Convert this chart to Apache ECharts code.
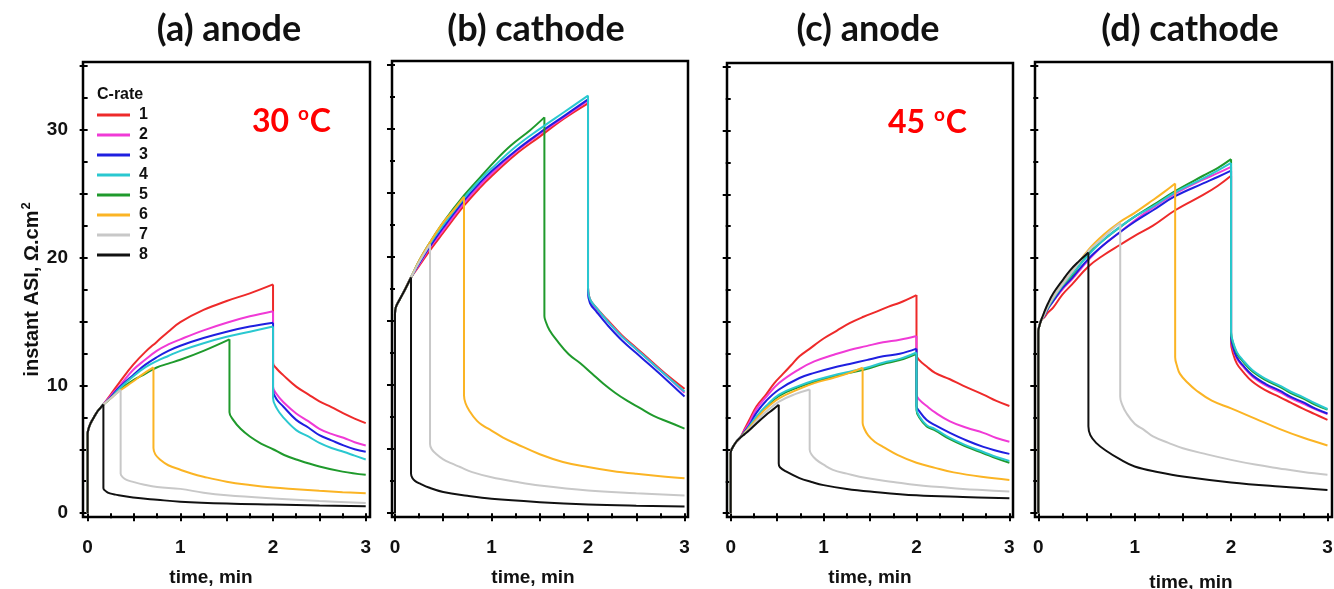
<!DOCTYPE html>
<html>
<head>
<meta charset="utf-8">
<title>Instant ASI vs time</title>
<script src="https://cdn.jsdelivr.net/npm/echarts@6/dist/echarts.min.js"></script>
<style>
  html, body { margin: 0; padding: 0; background: #fff; }
  #chart { width: 1334px; height: 589px; }
</style>
</head>
<body>
<div id="chart"></div>
<script>
// ---- data: time (min), instant ASI (ohm.cm2) ----
const rates = ['1', '2', '3', '4', '5', '6', '7', '8'];
const xTickLabels = [0, 1, 2, 3];
const yTickLabels = [0, 10, 20, 30];

// (a) anode, 30 C: shared start of the pulse, then one curve per C-rate
const anode30Start = [[0,0],[0,6.2],[0.01,6.6],[0.03,7.0],[0.06,7.4],[0.1,7.9],[0.14,8.25],[0.17,8.5]];
const anode30 = [
  [[0.25,9.3],[0.35,10.3],[0.49,11.6],[0.62,12.6],[0.745,13.4],[0.87,14.2],[1.0,14.95],[1.25,15.9],[1.5,16.6],[1.75,17.2],[2.0,17.9],[2.0,11.75],[2.04,11.3],[2.11,10.8],[2.25,9.9],[2.38,9.3],[2.5,8.75],[2.63,8.3],[2.76,7.8],[2.88,7.4],[3.0,7.05]],
  [[0.25,9.2],[0.35,10.0],[0.49,11.2],[0.62,12.0],[0.745,12.7],[0.87,13.2],[1.0,13.6],[1.25,14.3],[1.5,14.9],[1.75,15.4],[2.0,15.8],[2.0,9.9],[2.04,9.3],[2.11,8.7],[2.25,7.8],[2.38,7.2],[2.5,6.6],[2.63,6.2],[2.76,5.9],[2.88,5.55],[3.0,5.3]],
  [[0.25,9.1],[0.35,9.9],[0.49,10.8],[0.62,11.6],[0.745,12.2],[0.87,12.7],[1.0,13.1],[1.25,13.7],[1.5,14.2],[1.75,14.6],[2.0,14.9],[2.0,9.6],[2.04,8.9],[2.11,8.35],[2.25,7.3],[2.38,6.7],[2.5,6.1],[2.63,5.7],[2.76,5.3],[2.88,5.0],[3.0,4.8]],
  [[0.25,9.0],[0.35,9.8],[0.49,10.7],[0.62,11.4],[0.745,11.9],[0.87,12.3],[1.0,12.7],[1.25,13.3],[1.5,13.8],[1.75,14.2],[2.0,14.6],[2.0,9.0],[2.04,8.2],[2.11,7.5],[2.25,6.5],[2.38,6.0],[2.5,5.5],[2.63,5.1],[2.76,4.8],[2.88,4.5],[3.0,4.2]],
  [[0.25,9.0],[0.35,9.7],[0.49,10.4],[0.62,10.9],[0.745,11.4],[0.87,11.7],[1.0,12.0],[1.25,12.7],[1.53,13.6],[1.53,7.9],[1.57,7.3],[1.65,6.6],[1.75,6.0],[1.87,5.45],[2.0,5.0],[2.12,4.55],[2.25,4.2],[2.5,3.65],[2.75,3.25],[3.0,3.0]],
  [[0.25,9.0],[0.35,9.6],[0.49,10.3],[0.6,10.9],[0.71,11.4],[0.71,5.1],[0.73,4.6],[0.78,4.2],[0.87,3.75],[1.0,3.4],[1.12,3.1],[1.25,2.85],[1.5,2.46],[1.75,2.2],[2.0,2.0],[2.25,1.87],[2.5,1.75],[2.75,1.64],[3.0,1.55]],
  [[0.25,9.0],[0.356,9.65],[0.356,3.1],[0.38,2.8],[0.42,2.6],[0.49,2.45],[0.6,2.25],[0.75,2.05],[1.0,1.9],[1.25,1.6],[1.5,1.4],[2.0,1.15],[2.5,0.95],[3.0,0.8]],
  [[0.17,1.95],[0.2,1.7],[0.24,1.55],[0.3,1.45],[0.49,1.23],[0.75,1.05],[1.0,0.9],[1.5,0.75],[2.0,0.67],[2.5,0.6],[3.0,0.55]]
];

// (b) cathode, 30 C
const cathode30Start = [[0,0],[0,15.6],[0.01,16.1],[0.05,16.7],[0.1,17.4],[0.166,18.4]];
const cathode30 = [
  [[0.25,19.3],[0.36,20.5],[0.5,21.9],[0.715,24.0],[0.88,25.4],[1.0,26.3],[1.25,28.0],[1.5,29.4],[1.75,30.8],[2.0,32.0],[2.0,17.6],[2.02,16.7],[2.09,16.0],[2.2,15.1],[2.35,13.9],[2.5,12.9],[2.65,11.9],[2.8,10.9],[3.0,9.7]],
  [[0.25,19.4],[0.36,20.7],[0.5,22.1],[0.715,24.2],[0.88,25.6],[1.0,26.5],[1.25,28.2],[1.5,29.6],[1.75,30.9],[2.0,32.2],[2.0,17.5],[2.02,16.6],[2.09,15.9],[2.2,15.0],[2.35,13.8],[2.5,12.8],[2.65,11.8],[2.8,10.8],[3.0,9.4]],
  [[0.25,19.5],[0.36,20.8],[0.5,22.3],[0.715,24.4],[0.88,25.8],[1.0,26.7],[1.25,28.3],[1.5,29.7],[1.75,31.0],[2.0,32.3],[2.0,17.3],[2.02,16.4],[2.09,15.7],[2.2,14.7],[2.35,13.5],[2.5,12.5],[2.65,11.5],[2.8,10.5],[3.0,9.1]],
  [[0.25,19.6],[0.36,21.0],[0.5,22.5],[0.715,24.6],[0.88,26.0],[1.0,26.9],[1.25,28.6],[1.5,30.0],[1.75,31.3],[2.0,32.6],[2.0,17.6],[2.02,16.7],[2.09,16.0],[2.2,15.0],[2.35,13.8],[2.5,12.8],[2.65,11.8],[2.8,10.8],[3.0,9.5]],
  [[0.25,19.7],[0.36,21.1],[0.5,22.7],[0.715,24.8],[0.88,26.2],[1.05,27.6],[1.2,28.7],[1.4,29.9],[1.548,30.9],[1.548,15.4],[1.56,15.0],[1.6,14.3],[1.675,13.5],[1.8,12.4],[1.92,11.7],[2.04,10.9],[2.16,10.1],[2.28,9.4],[2.4,8.8],[2.54,8.2],[2.68,7.6],[2.84,7.1],[3.0,6.6]],
  [[0.25,19.7],[0.36,21.1],[0.5,22.7],[0.6,23.6],[0.715,24.7],[0.715,9.2],[0.73,8.6],[0.77,8.0],[0.85,7.2],[0.92,6.8],[1.0,6.45],[1.12,5.9],[1.26,5.4],[1.5,4.6],[1.74,4.0],[2.0,3.6],[2.25,3.3],[2.5,3.07],[2.75,2.88],[3.0,2.73]],
  [[0.25,19.6],[0.363,21.0],[0.363,5.4],[0.38,5.0],[0.43,4.6],[0.5,4.2],[0.58,3.9],[0.675,3.6],[0.8,3.2],[1.0,2.8],[1.25,2.45],[1.5,2.16],[2.0,1.77],[2.5,1.56],[3.0,1.38]],
  [[0.166,3.1],[0.18,2.75],[0.21,2.5],[0.26,2.3],[0.35,2.0],[0.5,1.65],[0.75,1.35],[1.0,1.12],[1.5,0.86],[2.0,0.68],[2.5,0.58],[3.0,0.52]]
];

// (c) anode, 45 C
const anode45Start = [[0,0],[0,4.7],[0.01,5.0],[0.025,5.2],[0.06,5.6],[0.1,5.9]];
const anode45 = [
  [[0.15,6.6],[0.2,7.3],[0.28,8.4],[0.38,9.3],[0.47,10.2],[0.56,10.9],[0.65,11.6],[0.74,12.3],[0.87,13.0],[1.0,13.7],[1.14,14.3],[1.28,14.9],[1.43,15.4],[1.57,15.8],[1.7,16.2],[1.82,16.5],[2.0,17.1],[2.0,12.4],[2.03,12.0],[2.11,11.5],[2.2,11.0],[2.36,10.5],[2.5,10.0],[2.72,9.3],[2.86,8.8],[3.0,8.4]],
  [[0.15,6.5],[0.2,7.1],[0.28,8.2],[0.38,9.1],[0.52,10.2],[0.74,11.3],[0.9,11.9],[1.1,12.4],[1.28,12.8],[1.46,13.1],[1.64,13.4],[1.82,13.6],[2.0,13.9],[2.0,9.3],[2.03,8.9],[2.11,8.4],[2.2,7.9],[2.36,7.2],[2.54,6.7],[2.72,6.3],[2.86,5.9],[3.0,5.6]],
  [[0.15,6.4],[0.2,6.9],[0.28,7.9],[0.38,8.8],[0.52,9.7],[0.74,10.6],[0.9,11.0],[1.1,11.4],[1.28,11.7],[1.46,12.0],[1.64,12.3],[1.82,12.5],[2.0,12.9],[2.0,8.4],[2.03,8.0],[2.11,7.3],[2.2,6.9],[2.36,6.3],[2.54,5.7],[2.72,5.2],[2.86,4.9],[3.0,4.65]],
  [[0.15,6.3],[0.2,6.8],[0.28,7.6],[0.38,8.4],[0.52,9.3],[0.74,10.0],[0.9,10.4],[1.1,10.8],[1.28,11.1],[1.46,11.4],[1.64,11.8],[1.82,12.1],[2.0,12.6],[2.0,8.2],[2.03,7.6],[2.11,6.9],[2.2,6.6],[2.36,5.9],[2.54,5.3],[2.72,4.8],[2.86,4.4],[3.0,4.1]],
  [[0.15,6.3],[0.2,6.7],[0.28,7.5],[0.38,8.3],[0.52,9.2],[0.74,9.9],[0.9,10.3],[1.1,10.7],[1.28,11.0],[1.46,11.3],[1.64,11.7],[1.82,12.0],[2.0,12.5],[2.0,8.1],[2.03,7.5],[2.11,6.8],[2.2,6.5],[2.36,5.8],[2.54,5.2],[2.72,4.7],[2.86,4.3],[3.0,3.95]],
  [[0.15,6.3],[0.2,6.7],[0.28,7.4],[0.38,8.2],[0.52,9.0],[0.74,9.75],[0.9,10.2],[1.1,10.6],[1.28,11.0],[1.42,11.4],[1.42,7.1],[1.44,6.6],[1.48,6.1],[1.55,5.6],[1.64,5.2],[1.8,4.55],[2.0,3.95],[2.2,3.55],[2.4,3.2],[2.7,2.85],[3.0,2.6]],
  [[0.15,6.25],[0.2,6.6],[0.28,7.25],[0.38,7.95],[0.52,8.75],[0.7,9.35],[0.85,9.7],[0.85,5.0],[0.87,4.6],[0.92,4.2],[1.0,3.8],[1.1,3.4],[1.25,3.1],[1.46,2.75],[1.75,2.45],[2.0,2.2],[2.25,2.05],[2.5,1.9],[2.75,1.8],[3.0,1.7]],
  [[0.15,6.2],[0.2,6.5],[0.28,7.05],[0.38,7.7],[0.45,8.1],[0.517,8.5],[0.517,3.9],[0.53,3.6],[0.6,3.25],[0.74,2.75],[0.87,2.45],[1.0,2.2],[1.25,1.9],[1.5,1.7],[2.0,1.4],[2.5,1.27],[3.0,1.18]]
];

// (d) cathode, 45 C
const cathode45Start = [[0,0],[0,14.2],[0.01,14.6],[0.03,15.1]];
const cathode45 = [
  [[0.06,15.3],[0.1,15.7],[0.156,16.1],[0.25,17.1],[0.35,17.9],[0.52,19.3],[0.68,20.2],[0.85,21.0],[1.0,21.7],[1.19,22.5],[1.42,23.7],[1.71,24.9],[1.86,25.6],[2.0,26.4],[2.0,13.3],[2.02,12.5],[2.06,11.7],[2.12,11.1],[2.22,10.3],[2.36,9.6],[2.5,9.1],[2.62,8.65],[2.74,8.2],[2.87,7.75],[3.0,7.3]],
  [[0.06,15.4],[0.1,16.0],[0.156,16.6],[0.25,17.5],[0.35,18.3],[0.52,19.8],[0.68,21.0],[0.85,22.0],[1.0,22.9],[1.19,23.9],[1.42,25.0],[1.71,26.1],[1.86,26.6],[2.0,27.1],[2.0,13.7],[2.02,12.9],[2.06,12.1],[2.12,11.5],[2.22,10.7],[2.36,10.0],[2.5,9.5],[2.62,9.0],[2.74,8.6],[2.87,8.15],[3.0,7.75]],
  [[0.06,15.4],[0.1,16.0],[0.156,16.6],[0.25,17.6],[0.35,18.4],[0.52,19.9],[0.68,21.0],[0.85,22.0],[1.0,22.8],[1.19,23.7],[1.42,24.8],[1.71,25.8],[1.86,26.3],[2.0,26.8],[2.0,13.8],[2.02,13.0],[2.06,12.2],[2.12,11.6],[2.22,10.8],[2.36,10.1],[2.5,9.6],[2.62,9.1],[2.74,8.7],[2.87,8.2],[3.0,7.8]],
  [[0.06,15.5],[0.1,16.1],[0.156,16.8],[0.25,17.8],[0.35,18.7],[0.52,20.2],[0.68,21.4],[0.85,22.4],[1.0,23.2],[1.19,24.0],[1.42,25.1],[1.71,26.2],[1.86,26.8],[2.0,27.4],[2.0,14.2],[2.02,13.4],[2.06,12.6],[2.12,12.0],[2.22,11.2],[2.36,10.5],[2.5,10.0],[2.62,9.5],[2.74,9.1],[2.87,8.6],[3.0,8.15]],
  [[0.06,15.5],[0.1,16.1],[0.156,16.8],[0.25,17.8],[0.35,18.6],[0.52,20.3],[0.68,21.4],[0.85,22.4],[1.0,23.2],[1.19,24.1],[1.42,25.2],[1.71,26.4],[1.86,27.0],[2.0,27.7],[2.0,14.1],[2.02,13.3],[2.06,12.5],[2.12,11.9],[2.22,11.1],[2.36,10.4],[2.5,9.9],[2.62,9.4],[2.74,9.0],[2.87,8.5],[3.0,8.1]],
  [[0.06,15.5],[0.1,16.2],[0.156,16.9],[0.25,17.9],[0.35,18.9],[0.52,20.6],[0.68,21.8],[0.85,22.8],[1.0,23.5],[1.19,24.5],[1.3,25.1],[1.42,25.8],[1.42,12.2],[1.44,11.5],[1.47,10.9],[1.55,10.2],[1.64,9.6],[1.8,8.8],[2.0,8.2],[2.25,7.4],[2.5,6.6],[2.75,5.9],[3.0,5.3]],
  [[0.06,15.5],[0.1,16.2],[0.156,16.9],[0.25,17.9],[0.35,18.9],[0.52,20.5],[0.65,21.4],[0.75,22.1],[0.85,22.7],[0.85,9.1],[0.87,8.5],[0.917,7.8],[1.0,7.0],[1.1,6.5],[1.19,6.0],[1.35,5.5],[1.5,5.08],[1.75,4.6],[2.0,4.17],[2.25,3.8],[2.5,3.5],[2.75,3.22],[3.0,3.0]],
  [[0.06,15.7],[0.1,16.4],[0.156,17.2],[0.25,18.2],[0.33,19.0],[0.42,19.7],[0.52,20.4],[0.52,6.8],[0.54,6.1],[0.6,5.5],[0.7,4.9],[0.85,4.2],[1.0,3.65],[1.25,3.2],[1.5,2.86],[2.0,2.4],[2.5,2.08],[3.0,1.82]]
];

// ---- styling ----
const rateColors = ['#ee2a2a', '#f03ad6', '#1f1fe0', '#2ac8d0', '#1f9a2c', '#fbb424', '#c8c8c8', '#111111'];
// later entries are painted on top
const paintOrder = [0, 1, 2, 4, 3, 5, 6, 7];
const SANS = "'Liberation Sans', Arial, sans-serif";
const TITLE_FONT = "Lato, 'Open Sans', sans-serif";

const panels = [
  { title: '(a) anode',   start: anode30Start,   curves: anode30,   grid: { left: 83,   top: 62, width: 287, height: 455 }, xMin: -0.05,  xMax: 3.046, titleX: 229,  namePad: [0, 31, 0, 0], nameGap: 51 },
  { title: '(b) cathode', start: cathode30Start, curves: cathode30, grid: { left: 392,  top: 61, width: 296, height: 456 }, xMin: -0.031, xMax: 3.036, titleX: 536,  namePad: [0, 14, 0, 0], nameGap: 51 },
  { title: '(c) anode',   start: anode45Start,   curves: anode45,   grid: { left: 727,  top: 63, width: 286, height: 454 }, xMin: -0.04,  xMax: 3.039, titleX: 868,  namePad: [0, 0, 0, 0],  nameGap: 51 },
  { title: '(d) cathode', start: cathode45Start, curves: cathode45, grid: { left: 1035, top: 62, width: 297, height: 455 }, xMin: -0.034, xMax: 3.047, titleX: 1190, namePad: [0, 0, 0, 15], nameGap: 56 }
];

const yMin = -0.3, yMax = 35.3;
const xMajorTicks = [0, 0.5, 1, 1.5, 2, 2.5, 3];
const xMinorTicks = [0.25, 0.75, 1.25, 1.75, 2.25, 2.75];
const yMajorTicks = [0, 5, 10, 15, 20, 25, 30, 35];
const yMinorTicks = [2.5, 7.5, 12.5, 17.5, 22.5, 27.5, 32.5];

// split a trace at the end of the current pulse (a vertical fall at constant time),
// so that each part can be smoothed without rounding the sharp peak
function splitAtFall(pts) {
  for (let j = 2; j < pts.length - 1; j++) {
    if (pts[j][0] === pts[j + 1][0] && pts[j + 1][1] < pts[j][1]) {
      return [pts.slice(0, j + 1), pts.slice(j)];
    }
  }
  return [pts];
}

const tickLine = { color: '#000', width: 2 };
const grids = [], xAxes = [], yAxes = [], series = [], graphics = [];

panels.forEach((p, i) => {
  grids.push(Object.assign({ show: true, borderColor: '#000', borderWidth: 2.5, backgroundColor: 'transparent', containLabel: false, outerBoundsMode: 'none' }, p.grid));

  xAxes.push({
    type: 'value', gridIndex: i, position: 'bottom', min: p.xMin, max: p.xMax,
    axisLine: { show: false }, splitLine: { show: false },
    axisTick: { show: true, customValues: xMajorTicks, length: 8, lineStyle: tickLine },
    axisLabel: { customValues: xTickLabels, fontSize: 19, fontWeight: 'bold', fontFamily: SANS, color: '#111', margin: 21 },
    name: 'time, min', nameLocation: 'middle', nameGap: p.nameGap,
    nameTextStyle: { fontSize: 19, fontWeight: 'bold', fontFamily: SANS, color: '#111', padding: p.namePad }
  });
  xAxes.push({
    type: 'value', gridIndex: i, position: 'bottom', min: p.xMin, max: p.xMax,
    axisLine: { show: false }, splitLine: { show: false }, axisLabel: { show: false },
    axisTick: { show: true, customValues: xMinorTicks, length: 5, lineStyle: tickLine }
  });

  const yMain = {
    type: 'value', gridIndex: i, position: 'left', min: yMin, max: yMax,
    axisLine: { show: false }, splitLine: { show: false },
    axisTick: { show: true, customValues: yMajorTicks, length: 8, lineStyle: tickLine },
    axisLabel: { show: i === 0, customValues: yTickLabels, fontSize: 19, fontWeight: 'bold', fontFamily: SANS, color: '#111', margin: 15 }
  };
  if (i === 0) {
    Object.assign(yMain, {
      name: 'instant ASI, \u03A9.cm{sup|2}', nameLocation: 'middle', nameGap: 37, nameRotate: 90,
      nameTextStyle: {
        fontSize: 20, fontWeight: 'bold', fontFamily: SANS, color: '#111',
        rich: { sup: { fontSize: 13, fontWeight: 'bold', fontFamily: SANS, color: '#111', padding: [0, 0, 13, 1] } }
      }
    });
  }
  yAxes.push(yMain);
  yAxes.push({
    type: 'value', gridIndex: i, position: 'left', min: yMin, max: yMax,
    axisLine: { show: false }, splitLine: { show: false }, axisLabel: { show: false },
    axisTick: { show: true, customValues: yMinorTicks, length: 5, lineStyle: tickLine }
  });

  paintOrder.forEach((k, order) => {
    splitAtFall(p.start.concat(p.curves[k])).forEach(part => {
      series.push({
        type: 'line', name: rates[k], xAxisIndex: 2 * i, yAxisIndex: 2 * i,
        data: part,
        showSymbol: false, symbol: 'none', smooth: 0.4, silent: true,
        lineStyle: { width: 2, color: rateColors[k] }, itemStyle: { color: rateColors[k] },
        z: 2 + order * 0.01
      });
    });
  });

  graphics.push({
    type: 'text', x: p.titleX, y: 29,
    style: { text: p.title, fill: '#111', fontSize: 36, fontWeight: 'bold', fontFamily: TITLE_FONT, align: 'center', verticalAlign: 'middle' }
  });
});

const tempRich = { sup: { fontSize: 19, fontWeight: 'bold', fontFamily: TITLE_FONT, fill: '#ff0000', padding: [0, 1, 16, 1] } };
graphics.push({
  type: 'text', x: 252, y: 122,
  style: { text: '30 {sup|o}C', fill: '#ff0000', fontSize: 32, fontWeight: 'bold', fontFamily: TITLE_FONT, align: 'left', verticalAlign: 'middle', rich: tempRich }
});
graphics.push({
  type: 'text', x: 888, y: 123,
  style: { text: '45 {sup|o}C', fill: '#ff0000', fontSize: 32, fontWeight: 'bold', fontFamily: TITLE_FONT, align: 'left', verticalAlign: 'middle', rich: tempRich }
});
graphics.push({
  type: 'text', x: 97, y: 95,
  style: { text: 'C-rate', fill: '#111', fontSize: 16, fontWeight: 'bold', fontFamily: SANS, align: 'left', verticalAlign: 'middle' }
});

const chart = echarts.init(document.getElementById('chart'), null, { renderer: 'canvas' });
chart.setOption({
  animation: false,
  backgroundColor: '#fff',
  grid: grids,
  xAxis: xAxes,
  yAxis: yAxes,
  legend: {
    data: rates, orient: 'vertical', left: 97, top: 107, padding: 0, icon: 'rect',
    itemWidth: 33, itemHeight: 3, itemGap: 4, selectedMode: false,
    textStyle: { fontSize: 16, fontWeight: 'bold', fontFamily: SANS, color: '#111', lineHeight: 14, padding: [0, 0, 0, 4] }
  },
  graphic: graphics,
  series: series
});
</script>
</body>
</html>
